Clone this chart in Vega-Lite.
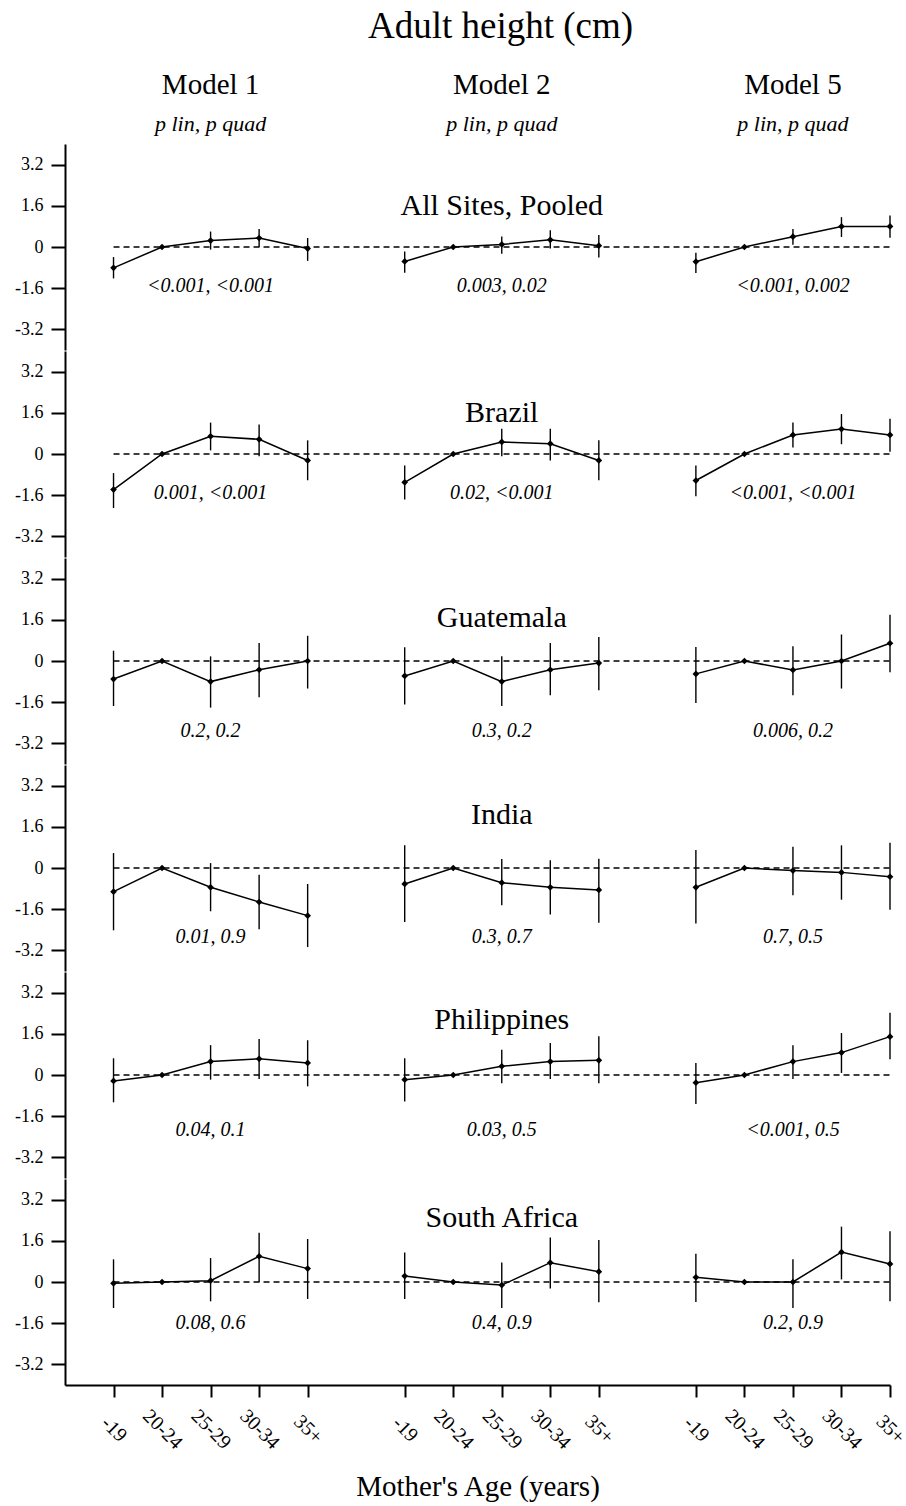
{
"$schema": "https://vega.github.io/schema/vega-lite/v6.json",
"padding": {"left": 14, "top": 8, "right": 0, "bottom": 8},
"background": "white",
"title": {"text": "Adult height (cm)", "font": "Liberation Serif", "fontSize": 37, "fontWeight": "normal", "color": "black", "anchor": "middle", "frame": "group", "dx": 23, "offset": 25},
"config": {
  "view": {"stroke": null},
  "axis": {"grid": false, "domainColor": "black", "tickColor": "black", "labelColor": "black", "titleColor": "black", "labelFont": "Liberation Serif", "titleFont": "Liberation Serif", "domainWidth": 2, "tickWidth": 2, "titleFontWeight": "normal", "labelOverlap": false, "labelFlush": false}
},
"datasets": {
  "sites": [{"site": "All Sites, Pooled"}, {"site": "Brazil"}, {"site": "Guatemala"}, {"site": "India"}, {"site": "Philippines"}, {"site": "South Africa"}],
  "models": [{"model": "Model 1", "sub": "p lin, p quad"}, {"model": "Model 2", "sub": "p lin, p quad"}, {"model": "Model 5", "sub": "p lin, p quad"}],
  "pv": [
    {"site": "All Sites, Pooled", "model": "Model 1", "p": "<0.001, <0.001"},
    {"site": "All Sites, Pooled", "model": "Model 2", "p": "0.003, 0.02"},
    {"site": "All Sites, Pooled", "model": "Model 5", "p": "<0.001, 0.002"},
    {"site": "Brazil", "model": "Model 1", "p": "0.001, <0.001"},
    {"site": "Brazil", "model": "Model 2", "p": "0.02, <0.001"},
    {"site": "Brazil", "model": "Model 5", "p": "<0.001, <0.001"},
    {"site": "Guatemala", "model": "Model 1", "p": "0.2, 0.2"},
    {"site": "Guatemala", "model": "Model 2", "p": "0.3, 0.2"},
    {"site": "Guatemala", "model": "Model 5", "p": "0.006, 0.2"},
    {"site": "India", "model": "Model 1", "p": "0.01, 0.9"},
    {"site": "India", "model": "Model 2", "p": "0.3, 0.7"},
    {"site": "India", "model": "Model 5", "p": "0.7, 0.5"},
    {"site": "Philippines", "model": "Model 1", "p": "0.04, 0.1"},
    {"site": "Philippines", "model": "Model 2", "p": "0.03, 0.5"},
    {"site": "Philippines", "model": "Model 5", "p": "<0.001, 0.5"},
    {"site": "South Africa", "model": "Model 1", "p": "0.08, 0.6"},
    {"site": "South Africa", "model": "Model 2", "p": "0.4, 0.9"},
    {"site": "South Africa", "model": "Model 5", "p": "0.2, 0.9"}
  ],
  "est": [
    {"site": "All Sites, Pooled", "model": "Model 1", "age": "-19", "est": -0.81, "lo": -1.22, "hi": -0.39},
    {"site": "All Sites, Pooled", "model": "Model 1", "age": "20-24", "est": 0, "lo": null, "hi": null},
    {"site": "All Sites, Pooled", "model": "Model 1", "age": "25-29", "est": 0.25, "lo": -0.1, "hi": 0.6},
    {"site": "All Sites, Pooled", "model": "Model 1", "age": "30-34", "est": 0.35, "lo": 0.0, "hi": 0.7},
    {"site": "All Sites, Pooled", "model": "Model 1", "age": "35+", "est": -0.06, "lo": -0.54, "hi": 0.35},
    {"site": "All Sites, Pooled", "model": "Model 2", "age": "-19", "est": -0.56, "lo": -1.0, "hi": -0.17},
    {"site": "All Sites, Pooled", "model": "Model 2", "age": "20-24", "est": 0, "lo": null, "hi": null},
    {"site": "All Sites, Pooled", "model": "Model 2", "age": "25-29", "est": 0.1, "lo": -0.26, "hi": 0.41},
    {"site": "All Sites, Pooled", "model": "Model 2", "age": "30-34", "est": 0.28, "lo": -0.06, "hi": 0.65},
    {"site": "All Sites, Pooled", "model": "Model 2", "age": "35+", "est": 0.05, "lo": -0.41, "hi": 0.47},
    {"site": "All Sites, Pooled", "model": "Model 5", "age": "-19", "est": -0.57, "lo": -1.01, "hi": -0.22},
    {"site": "All Sites, Pooled", "model": "Model 5", "age": "20-24", "est": 0, "lo": null, "hi": null},
    {"site": "All Sites, Pooled", "model": "Model 5", "age": "25-29", "est": 0.4, "lo": 0.09, "hi": 0.7},
    {"site": "All Sites, Pooled", "model": "Model 5", "age": "30-34", "est": 0.8, "lo": 0.39, "hi": 1.16},
    {"site": "All Sites, Pooled", "model": "Model 5", "age": "35+", "est": 0.8, "lo": 0.36, "hi": 1.22},
    {"site": "Brazil", "model": "Model 1", "age": "-19", "est": -1.38, "lo": -2.1, "hi": -0.74},
    {"site": "Brazil", "model": "Model 1", "age": "20-24", "est": 0, "lo": null, "hi": null},
    {"site": "Brazil", "model": "Model 1", "age": "25-29", "est": 0.69, "lo": 0.14, "hi": 1.22},
    {"site": "Brazil", "model": "Model 1", "age": "30-34", "est": 0.57, "lo": -0.09, "hi": 1.15},
    {"site": "Brazil", "model": "Model 1", "age": "35+", "est": -0.25, "lo": -1.02, "hi": 0.53},
    {"site": "Brazil", "model": "Model 2", "age": "-19", "est": -1.1, "lo": -1.77, "hi": -0.45},
    {"site": "Brazil", "model": "Model 2", "age": "20-24", "est": 0, "lo": null, "hi": null},
    {"site": "Brazil", "model": "Model 2", "age": "25-29", "est": 0.47, "lo": -0.09, "hi": 0.98},
    {"site": "Brazil", "model": "Model 2", "age": "30-34", "est": 0.4, "lo": -0.25, "hi": 0.98},
    {"site": "Brazil", "model": "Model 2", "age": "35+", "est": -0.25, "lo": -1.02, "hi": 0.53},
    {"site": "Brazil", "model": "Model 5", "age": "-19", "est": -1.03, "lo": -1.64, "hi": -0.45},
    {"site": "Brazil", "model": "Model 5", "age": "20-24", "est": 0, "lo": null, "hi": null},
    {"site": "Brazil", "model": "Model 5", "age": "25-29", "est": 0.74, "lo": 0.25, "hi": 1.22},
    {"site": "Brazil", "model": "Model 5", "age": "30-34", "est": 0.97, "lo": 0.38, "hi": 1.55},
    {"site": "Brazil", "model": "Model 5", "age": "35+", "est": 0.74, "lo": 0.09, "hi": 1.37},
    {"site": "Guatemala", "model": "Model 1", "age": "-19", "est": -0.7, "lo": -1.75, "hi": 0.4},
    {"site": "Guatemala", "model": "Model 1", "age": "20-24", "est": 0, "lo": null, "hi": null},
    {"site": "Guatemala", "model": "Model 1", "age": "25-29", "est": -0.8, "lo": -1.81, "hi": 0.18},
    {"site": "Guatemala", "model": "Model 1", "age": "30-34", "est": -0.34, "lo": -1.41, "hi": 0.7},
    {"site": "Guatemala", "model": "Model 1", "age": "35+", "est": 0.0, "lo": -1.07, "hi": 0.98},
    {"site": "Guatemala", "model": "Model 2", "age": "-19", "est": -0.58, "lo": -1.69, "hi": 0.53},
    {"site": "Guatemala", "model": "Model 2", "age": "20-24", "est": 0, "lo": null, "hi": null},
    {"site": "Guatemala", "model": "Model 2", "age": "25-29", "est": -0.8, "lo": -1.75, "hi": 0.18},
    {"site": "Guatemala", "model": "Model 2", "age": "30-34", "est": -0.34, "lo": -1.33, "hi": 0.7},
    {"site": "Guatemala", "model": "Model 2", "age": "35+", "est": -0.08, "lo": -1.14, "hi": 0.93},
    {"site": "Guatemala", "model": "Model 5", "age": "-19", "est": -0.5, "lo": -1.63, "hi": 0.54},
    {"site": "Guatemala", "model": "Model 5", "age": "20-24", "est": 0, "lo": null, "hi": null},
    {"site": "Guatemala", "model": "Model 5", "age": "25-29", "est": -0.35, "lo": -1.33, "hi": 0.57},
    {"site": "Guatemala", "model": "Model 5", "age": "30-34", "est": 0.0, "lo": -1.07, "hi": 1.03},
    {"site": "Guatemala", "model": "Model 5", "age": "35+", "est": 0.69, "lo": -0.44, "hi": 1.8},
    {"site": "India", "model": "Model 1", "age": "-19", "est": -0.92, "lo": -2.42, "hi": 0.58},
    {"site": "India", "model": "Model 1", "age": "20-24", "est": 0, "lo": null, "hi": null},
    {"site": "India", "model": "Model 1", "age": "25-29", "est": -0.75, "lo": -1.68, "hi": 0.19},
    {"site": "India", "model": "Model 1", "age": "30-34", "est": -1.32, "lo": -2.38, "hi": -0.26},
    {"site": "India", "model": "Model 1", "age": "35+", "est": -1.85, "lo": -3.07, "hi": -0.62},
    {"site": "India", "model": "Model 2", "age": "-19", "est": -0.62, "lo": -2.1, "hi": 0.88},
    {"site": "India", "model": "Model 2", "age": "20-24", "est": 0, "lo": null, "hi": null},
    {"site": "India", "model": "Model 2", "age": "25-29", "est": -0.57, "lo": -1.45, "hi": 0.35},
    {"site": "India", "model": "Model 2", "age": "30-34", "est": -0.75, "lo": -1.81, "hi": 0.3},
    {"site": "India", "model": "Model 2", "age": "35+", "est": -0.85, "lo": -2.13, "hi": 0.36},
    {"site": "India", "model": "Model 5", "age": "-19", "est": -0.75, "lo": -2.16, "hi": 0.7},
    {"site": "India", "model": "Model 5", "age": "20-24", "est": 0, "lo": null, "hi": null},
    {"site": "India", "model": "Model 5", "age": "25-29", "est": -0.1, "lo": -1.06, "hi": 0.83},
    {"site": "India", "model": "Model 5", "age": "30-34", "est": -0.17, "lo": -1.23, "hi": 0.88},
    {"site": "India", "model": "Model 5", "age": "35+", "est": -0.34, "lo": -1.62, "hi": 0.98},
    {"site": "Philippines", "model": "Model 1", "age": "-19", "est": -0.23, "lo": -1.06, "hi": 0.65},
    {"site": "Philippines", "model": "Model 1", "age": "20-24", "est": 0, "lo": null, "hi": null},
    {"site": "Philippines", "model": "Model 1", "age": "25-29", "est": 0.52, "lo": -0.18, "hi": 1.16},
    {"site": "Philippines", "model": "Model 1", "age": "30-34", "est": 0.63, "lo": -0.16, "hi": 1.4},
    {"site": "Philippines", "model": "Model 1", "age": "35+", "est": 0.47, "lo": -0.44, "hi": 1.35},
    {"site": "Philippines", "model": "Model 2", "age": "-19", "est": -0.18, "lo": -1.03, "hi": 0.65},
    {"site": "Philippines", "model": "Model 2", "age": "20-24", "est": 0, "lo": null, "hi": null},
    {"site": "Philippines", "model": "Model 2", "age": "25-29", "est": 0.34, "lo": -0.32, "hi": 0.98},
    {"site": "Philippines", "model": "Model 2", "age": "30-34", "est": 0.52, "lo": -0.16, "hi": 1.24},
    {"site": "Philippines", "model": "Model 2", "age": "35+", "est": 0.57, "lo": -0.32, "hi": 1.5},
    {"site": "Philippines", "model": "Model 5", "age": "-19", "est": -0.3, "lo": -1.13, "hi": 0.47},
    {"site": "Philippines", "model": "Model 5", "age": "20-24", "est": 0, "lo": null, "hi": null},
    {"site": "Philippines", "model": "Model 5", "age": "25-29", "est": 0.52, "lo": -0.16, "hi": 1.16},
    {"site": "Philippines", "model": "Model 5", "age": "30-34", "est": 0.87, "lo": 0.08, "hi": 1.63},
    {"site": "Philippines", "model": "Model 5", "age": "35+", "est": 1.49, "lo": 0.61, "hi": 2.42},
    {"site": "South Africa", "model": "Model 1", "age": "-19", "est": -0.05, "lo": -1.01, "hi": 0.88},
    {"site": "South Africa", "model": "Model 1", "age": "20-24", "est": 0, "lo": null, "hi": null},
    {"site": "South Africa", "model": "Model 1", "age": "25-29", "est": 0.05, "lo": -0.75, "hi": 0.93},
    {"site": "South Africa", "model": "Model 1", "age": "30-34", "est": 1.0, "lo": 0.0, "hi": 1.91},
    {"site": "South Africa", "model": "Model 1", "age": "35+", "est": 0.52, "lo": -0.66, "hi": 1.67},
    {"site": "South Africa", "model": "Model 2", "age": "-19", "est": 0.23, "lo": -0.66, "hi": 1.15},
    {"site": "South Africa", "model": "Model 2", "age": "20-24", "est": 0, "lo": null, "hi": null},
    {"site": "South Africa", "model": "Model 2", "age": "25-29", "est": -0.12, "lo": -1.01, "hi": 0.76},
    {"site": "South Africa", "model": "Model 2", "age": "30-34", "est": 0.75, "lo": -0.25, "hi": 1.73},
    {"site": "South Africa", "model": "Model 2", "age": "35+", "est": 0.4, "lo": -0.79, "hi": 1.63},
    {"site": "South Africa", "model": "Model 5", "age": "-19", "est": 0.18, "lo": -0.78, "hi": 1.1},
    {"site": "South Africa", "model": "Model 5", "age": "20-24", "est": 0, "lo": null, "hi": null},
    {"site": "South Africa", "model": "Model 5", "age": "25-29", "est": 0.0, "lo": -1.01, "hi": 0.88},
    {"site": "South Africa", "model": "Model 5", "age": "30-34", "est": 1.16, "lo": 0.1, "hi": 2.15},
    {"site": "South Africa", "model": "Model 5", "age": "35+", "est": 0.7, "lo": -0.75, "hi": 1.97}
  ]
},
"spacing": 1,
"vconcat": [
{
"width": 825, "height": 206,
"layer": [
{"data": {"values": [{}]}, "mark": {"type": "rule", "strokeDash": [6, 4], "strokeWidth": 1.5, "color": "black"}, "encoding": {"x": {"datum": 1, "type": "quantitative", "scale": {"domain": [0, 17], "nice": false, "zero": false}, "axis": null}, "x2": {"datum": 17}, "y": {"datum": 0, "type": "quantitative", "scale": {"domain": [-4, 4], "nice": false, "zero": false}, "axis": {"values": [-3.2, -1.6, 0, 1.6, 3.2], "labelExpr": "'' + datum.value", "title": null, "tickSize": 14, "labelFontSize": 18, "labelPadding": 8}}}},
{"data": {"name": "est"}, "transform": [{"filter": "datum.site == 'All Sites, Pooled'"}, {"calculate": "indexof(['-19','20-24','25-29','30-34','35+'], datum.age) + 1 + 6 * indexof(['Model 1','Model 2','Model 5'], datum.model)", "as": "xpos"}], "mark": {"type": "rule", "strokeWidth": 1.4, "color": "black"}, "encoding": {"x": {"field": "xpos", "type": "quantitative", "scale": {"domain": [0, 17], "nice": false, "zero": false}, "axis": null}, "y": {"field": "lo", "type": "quantitative", "scale": {"domain": [-4, 4], "nice": false, "zero": false}, "axis": {"values": [-3.2, -1.6, 0, 1.6, 3.2], "labelExpr": "'' + datum.value", "title": null, "tickSize": 14, "labelFontSize": 18, "labelPadding": 8}}, "y2": {"field": "hi"}}},
{"data": {"name": "est"}, "transform": [{"filter": "datum.site == 'All Sites, Pooled'"}, {"calculate": "indexof(['-19','20-24','25-29','30-34','35+'], datum.age) + 1 + 6 * indexof(['Model 1','Model 2','Model 5'], datum.model)", "as": "xpos"}], "mark": {"type": "line", "strokeWidth": 1.5, "color": "black"}, "encoding": {"x": {"field": "xpos", "type": "quantitative", "scale": {"domain": [0, 17], "nice": false, "zero": false}, "axis": null}, "y": {"field": "est", "type": "quantitative", "scale": {"domain": [-4, 4], "nice": false, "zero": false}, "axis": {"values": [-3.2, -1.6, 0, 1.6, 3.2], "labelExpr": "'' + datum.value", "title": null, "tickSize": 14, "labelFontSize": 18, "labelPadding": 8}}, "detail": {"field": "model"}}},
{"data": {"name": "est"}, "transform": [{"filter": "datum.site == 'All Sites, Pooled'"}, {"calculate": "indexof(['-19','20-24','25-29','30-34','35+'], datum.age) + 1 + 6 * indexof(['Model 1','Model 2','Model 5'], datum.model)", "as": "xpos"}], "mark": {"type": "point", "shape": "diamond", "filled": true, "size": 45, "color": "black", "opacity": 1}, "encoding": {"x": {"field": "xpos", "type": "quantitative", "scale": {"domain": [0, 17], "nice": false, "zero": false}, "axis": null}, "y": {"field": "est", "type": "quantitative", "scale": {"domain": [-4, 4], "nice": false, "zero": false}, "axis": {"values": [-3.2, -1.6, 0, 1.6, 3.2], "labelExpr": "'' + datum.value", "title": null, "tickSize": 14, "labelFontSize": 18, "labelPadding": 8}}}},
{"data": {"name": "pv"}, "transform": [{"filter": "datum.site == 'All Sites, Pooled'"}, {"calculate": "3 + 6 * indexof(['Model 1','Model 2','Model 5'], datum.model)", "as": "xpos"}], "mark": {"type": "text", "font": "Liberation Serif", "fontStyle": "italic", "fontSize": 20, "color": "black"}, "encoding": {"x": {"field": "xpos", "type": "quantitative", "scale": {"domain": [0, 17], "nice": false, "zero": false}, "axis": null}, "y": {"datum": -1.53, "type": "quantitative", "scale": {"domain": [-4, 4], "nice": false, "zero": false}, "axis": {"values": [-3.2, -1.6, 0, 1.6, 3.2], "labelExpr": "'' + datum.value", "title": null, "tickSize": 14, "labelFontSize": 18, "labelPadding": 8}}, "text": {"field": "p"}}},
{"data": {"name": "sites"}, "transform": [{"filter": "datum.site == 'All Sites, Pooled'"}], "mark": {"type": "text", "font": "Liberation Serif", "fontSize": 30, "color": "black"}, "encoding": {"x": {"datum": 9, "type": "quantitative", "scale": {"domain": [0, 17], "nice": false, "zero": false}, "axis": null}, "y": {"datum": 1.6, "type": "quantitative", "scale": {"domain": [-4, 4], "nice": false, "zero": false}, "axis": {"values": [-3.2, -1.6, 0, 1.6, 3.2], "labelExpr": "'' + datum.value", "title": null, "tickSize": 14, "labelFontSize": 18, "labelPadding": 8}}, "text": {"field": "site"}}},
{"data": {"name": "models"}, "transform": [{"calculate": "3 + 6 * indexof(['Model 1','Model 2','Model 5'], datum.model)", "as": "xpos"}], "mark": {"type": "text", "font": "Liberation Serif", "fontSize": 29, "color": "black"}, "encoding": {"x": {"field": "xpos", "type": "quantitative", "scale": {"domain": [0, 17], "nice": false, "zero": false}, "axis": null}, "y": {"datum": 6.29, "type": "quantitative", "scale": {"domain": [-4, 4], "nice": false, "zero": false}, "axis": {"values": [-3.2, -1.6, 0, 1.6, 3.2], "labelExpr": "'' + datum.value", "title": null, "tickSize": 14, "labelFontSize": 18, "labelPadding": 8}}, "text": {"field": "model"}}},
{"data": {"name": "models"}, "transform": [{"calculate": "3 + 6 * indexof(['Model 1','Model 2','Model 5'], datum.model)", "as": "xpos"}], "mark": {"type": "text", "font": "Liberation Serif", "fontStyle": "italic", "fontSize": 22, "color": "black"}, "encoding": {"x": {"field": "xpos", "type": "quantitative", "scale": {"domain": [0, 17], "nice": false, "zero": false}, "axis": null}, "y": {"datum": 4.78, "type": "quantitative", "scale": {"domain": [-4, 4], "nice": false, "zero": false}, "axis": {"values": [-3.2, -1.6, 0, 1.6, 3.2], "labelExpr": "'' + datum.value", "title": null, "tickSize": 14, "labelFontSize": 18, "labelPadding": 8}}, "text": {"field": "sub"}}}
]
},
{
"width": 825, "height": 206,
"layer": [
{"data": {"values": [{}]}, "mark": {"type": "rule", "strokeDash": [6, 4], "strokeWidth": 1.5, "color": "black"}, "encoding": {"x": {"datum": 1, "type": "quantitative", "scale": {"domain": [0, 17], "nice": false, "zero": false}, "axis": null}, "x2": {"datum": 17}, "y": {"datum": 0, "type": "quantitative", "scale": {"domain": [-4, 4], "nice": false, "zero": false}, "axis": {"values": [-3.2, -1.6, 0, 1.6, 3.2], "labelExpr": "'' + datum.value", "title": null, "tickSize": 14, "labelFontSize": 18, "labelPadding": 8}}}},
{"data": {"name": "est"}, "transform": [{"filter": "datum.site == 'Brazil'"}, {"calculate": "indexof(['-19','20-24','25-29','30-34','35+'], datum.age) + 1 + 6 * indexof(['Model 1','Model 2','Model 5'], datum.model)", "as": "xpos"}], "mark": {"type": "rule", "strokeWidth": 1.4, "color": "black"}, "encoding": {"x": {"field": "xpos", "type": "quantitative", "scale": {"domain": [0, 17], "nice": false, "zero": false}, "axis": null}, "y": {"field": "lo", "type": "quantitative", "scale": {"domain": [-4, 4], "nice": false, "zero": false}, "axis": {"values": [-3.2, -1.6, 0, 1.6, 3.2], "labelExpr": "'' + datum.value", "title": null, "tickSize": 14, "labelFontSize": 18, "labelPadding": 8}}, "y2": {"field": "hi"}}},
{"data": {"name": "est"}, "transform": [{"filter": "datum.site == 'Brazil'"}, {"calculate": "indexof(['-19','20-24','25-29','30-34','35+'], datum.age) + 1 + 6 * indexof(['Model 1','Model 2','Model 5'], datum.model)", "as": "xpos"}], "mark": {"type": "line", "strokeWidth": 1.5, "color": "black"}, "encoding": {"x": {"field": "xpos", "type": "quantitative", "scale": {"domain": [0, 17], "nice": false, "zero": false}, "axis": null}, "y": {"field": "est", "type": "quantitative", "scale": {"domain": [-4, 4], "nice": false, "zero": false}, "axis": {"values": [-3.2, -1.6, 0, 1.6, 3.2], "labelExpr": "'' + datum.value", "title": null, "tickSize": 14, "labelFontSize": 18, "labelPadding": 8}}, "detail": {"field": "model"}}},
{"data": {"name": "est"}, "transform": [{"filter": "datum.site == 'Brazil'"}, {"calculate": "indexof(['-19','20-24','25-29','30-34','35+'], datum.age) + 1 + 6 * indexof(['Model 1','Model 2','Model 5'], datum.model)", "as": "xpos"}], "mark": {"type": "point", "shape": "diamond", "filled": true, "size": 45, "color": "black", "opacity": 1}, "encoding": {"x": {"field": "xpos", "type": "quantitative", "scale": {"domain": [0, 17], "nice": false, "zero": false}, "axis": null}, "y": {"field": "est", "type": "quantitative", "scale": {"domain": [-4, 4], "nice": false, "zero": false}, "axis": {"values": [-3.2, -1.6, 0, 1.6, 3.2], "labelExpr": "'' + datum.value", "title": null, "tickSize": 14, "labelFontSize": 18, "labelPadding": 8}}}},
{"data": {"name": "pv"}, "transform": [{"filter": "datum.site == 'Brazil'"}, {"calculate": "3 + 6 * indexof(['Model 1','Model 2','Model 5'], datum.model)", "as": "xpos"}], "mark": {"type": "text", "font": "Liberation Serif", "fontStyle": "italic", "fontSize": 20, "color": "black"}, "encoding": {"x": {"field": "xpos", "type": "quantitative", "scale": {"domain": [0, 17], "nice": false, "zero": false}, "axis": null}, "y": {"datum": -1.53, "type": "quantitative", "scale": {"domain": [-4, 4], "nice": false, "zero": false}, "axis": {"values": [-3.2, -1.6, 0, 1.6, 3.2], "labelExpr": "'' + datum.value", "title": null, "tickSize": 14, "labelFontSize": 18, "labelPadding": 8}}, "text": {"field": "p"}}},
{"data": {"name": "sites"}, "transform": [{"filter": "datum.site == 'Brazil'"}], "mark": {"type": "text", "font": "Liberation Serif", "fontSize": 30, "color": "black"}, "encoding": {"x": {"datum": 9, "type": "quantitative", "scale": {"domain": [0, 17], "nice": false, "zero": false}, "axis": null}, "y": {"datum": 1.6, "type": "quantitative", "scale": {"domain": [-4, 4], "nice": false, "zero": false}, "axis": {"values": [-3.2, -1.6, 0, 1.6, 3.2], "labelExpr": "'' + datum.value", "title": null, "tickSize": 14, "labelFontSize": 18, "labelPadding": 8}}, "text": {"field": "site"}}}
]
},
{
"width": 825, "height": 206,
"layer": [
{"data": {"values": [{}]}, "mark": {"type": "rule", "strokeDash": [6, 4], "strokeWidth": 1.5, "color": "black"}, "encoding": {"x": {"datum": 1, "type": "quantitative", "scale": {"domain": [0, 17], "nice": false, "zero": false}, "axis": null}, "x2": {"datum": 17}, "y": {"datum": 0, "type": "quantitative", "scale": {"domain": [-4, 4], "nice": false, "zero": false}, "axis": {"values": [-3.2, -1.6, 0, 1.6, 3.2], "labelExpr": "'' + datum.value", "title": null, "tickSize": 14, "labelFontSize": 18, "labelPadding": 8}}}},
{"data": {"name": "est"}, "transform": [{"filter": "datum.site == 'Guatemala'"}, {"calculate": "indexof(['-19','20-24','25-29','30-34','35+'], datum.age) + 1 + 6 * indexof(['Model 1','Model 2','Model 5'], datum.model)", "as": "xpos"}], "mark": {"type": "rule", "strokeWidth": 1.4, "color": "black"}, "encoding": {"x": {"field": "xpos", "type": "quantitative", "scale": {"domain": [0, 17], "nice": false, "zero": false}, "axis": null}, "y": {"field": "lo", "type": "quantitative", "scale": {"domain": [-4, 4], "nice": false, "zero": false}, "axis": {"values": [-3.2, -1.6, 0, 1.6, 3.2], "labelExpr": "'' + datum.value", "title": null, "tickSize": 14, "labelFontSize": 18, "labelPadding": 8}}, "y2": {"field": "hi"}}},
{"data": {"name": "est"}, "transform": [{"filter": "datum.site == 'Guatemala'"}, {"calculate": "indexof(['-19','20-24','25-29','30-34','35+'], datum.age) + 1 + 6 * indexof(['Model 1','Model 2','Model 5'], datum.model)", "as": "xpos"}], "mark": {"type": "line", "strokeWidth": 1.5, "color": "black"}, "encoding": {"x": {"field": "xpos", "type": "quantitative", "scale": {"domain": [0, 17], "nice": false, "zero": false}, "axis": null}, "y": {"field": "est", "type": "quantitative", "scale": {"domain": [-4, 4], "nice": false, "zero": false}, "axis": {"values": [-3.2, -1.6, 0, 1.6, 3.2], "labelExpr": "'' + datum.value", "title": null, "tickSize": 14, "labelFontSize": 18, "labelPadding": 8}}, "detail": {"field": "model"}}},
{"data": {"name": "est"}, "transform": [{"filter": "datum.site == 'Guatemala'"}, {"calculate": "indexof(['-19','20-24','25-29','30-34','35+'], datum.age) + 1 + 6 * indexof(['Model 1','Model 2','Model 5'], datum.model)", "as": "xpos"}], "mark": {"type": "point", "shape": "diamond", "filled": true, "size": 45, "color": "black", "opacity": 1}, "encoding": {"x": {"field": "xpos", "type": "quantitative", "scale": {"domain": [0, 17], "nice": false, "zero": false}, "axis": null}, "y": {"field": "est", "type": "quantitative", "scale": {"domain": [-4, 4], "nice": false, "zero": false}, "axis": {"values": [-3.2, -1.6, 0, 1.6, 3.2], "labelExpr": "'' + datum.value", "title": null, "tickSize": 14, "labelFontSize": 18, "labelPadding": 8}}}},
{"data": {"name": "pv"}, "transform": [{"filter": "datum.site == 'Guatemala'"}, {"calculate": "3 + 6 * indexof(['Model 1','Model 2','Model 5'], datum.model)", "as": "xpos"}], "mark": {"type": "text", "font": "Liberation Serif", "fontStyle": "italic", "fontSize": 20, "color": "black"}, "encoding": {"x": {"field": "xpos", "type": "quantitative", "scale": {"domain": [0, 17], "nice": false, "zero": false}, "axis": null}, "y": {"datum": -2.7, "type": "quantitative", "scale": {"domain": [-4, 4], "nice": false, "zero": false}, "axis": {"values": [-3.2, -1.6, 0, 1.6, 3.2], "labelExpr": "'' + datum.value", "title": null, "tickSize": 14, "labelFontSize": 18, "labelPadding": 8}}, "text": {"field": "p"}}},
{"data": {"name": "sites"}, "transform": [{"filter": "datum.site == 'Guatemala'"}], "mark": {"type": "text", "font": "Liberation Serif", "fontSize": 30, "color": "black"}, "encoding": {"x": {"datum": 9, "type": "quantitative", "scale": {"domain": [0, 17], "nice": false, "zero": false}, "axis": null}, "y": {"datum": 1.68, "type": "quantitative", "scale": {"domain": [-4, 4], "nice": false, "zero": false}, "axis": {"values": [-3.2, -1.6, 0, 1.6, 3.2], "labelExpr": "'' + datum.value", "title": null, "tickSize": 14, "labelFontSize": 18, "labelPadding": 8}}, "text": {"field": "site"}}}
]
},
{
"width": 825, "height": 206,
"layer": [
{"data": {"values": [{}]}, "mark": {"type": "rule", "strokeDash": [6, 4], "strokeWidth": 1.5, "color": "black"}, "encoding": {"x": {"datum": 1, "type": "quantitative", "scale": {"domain": [0, 17], "nice": false, "zero": false}, "axis": null}, "x2": {"datum": 17}, "y": {"datum": 0, "type": "quantitative", "scale": {"domain": [-4, 4], "nice": false, "zero": false}, "axis": {"values": [-3.2, -1.6, 0, 1.6, 3.2], "labelExpr": "'' + datum.value", "title": null, "tickSize": 14, "labelFontSize": 18, "labelPadding": 8}}}},
{"data": {"name": "est"}, "transform": [{"filter": "datum.site == 'India'"}, {"calculate": "indexof(['-19','20-24','25-29','30-34','35+'], datum.age) + 1 + 6 * indexof(['Model 1','Model 2','Model 5'], datum.model)", "as": "xpos"}], "mark": {"type": "rule", "strokeWidth": 1.4, "color": "black"}, "encoding": {"x": {"field": "xpos", "type": "quantitative", "scale": {"domain": [0, 17], "nice": false, "zero": false}, "axis": null}, "y": {"field": "lo", "type": "quantitative", "scale": {"domain": [-4, 4], "nice": false, "zero": false}, "axis": {"values": [-3.2, -1.6, 0, 1.6, 3.2], "labelExpr": "'' + datum.value", "title": null, "tickSize": 14, "labelFontSize": 18, "labelPadding": 8}}, "y2": {"field": "hi"}}},
{"data": {"name": "est"}, "transform": [{"filter": "datum.site == 'India'"}, {"calculate": "indexof(['-19','20-24','25-29','30-34','35+'], datum.age) + 1 + 6 * indexof(['Model 1','Model 2','Model 5'], datum.model)", "as": "xpos"}], "mark": {"type": "line", "strokeWidth": 1.5, "color": "black"}, "encoding": {"x": {"field": "xpos", "type": "quantitative", "scale": {"domain": [0, 17], "nice": false, "zero": false}, "axis": null}, "y": {"field": "est", "type": "quantitative", "scale": {"domain": [-4, 4], "nice": false, "zero": false}, "axis": {"values": [-3.2, -1.6, 0, 1.6, 3.2], "labelExpr": "'' + datum.value", "title": null, "tickSize": 14, "labelFontSize": 18, "labelPadding": 8}}, "detail": {"field": "model"}}},
{"data": {"name": "est"}, "transform": [{"filter": "datum.site == 'India'"}, {"calculate": "indexof(['-19','20-24','25-29','30-34','35+'], datum.age) + 1 + 6 * indexof(['Model 1','Model 2','Model 5'], datum.model)", "as": "xpos"}], "mark": {"type": "point", "shape": "diamond", "filled": true, "size": 45, "color": "black", "opacity": 1}, "encoding": {"x": {"field": "xpos", "type": "quantitative", "scale": {"domain": [0, 17], "nice": false, "zero": false}, "axis": null}, "y": {"field": "est", "type": "quantitative", "scale": {"domain": [-4, 4], "nice": false, "zero": false}, "axis": {"values": [-3.2, -1.6, 0, 1.6, 3.2], "labelExpr": "'' + datum.value", "title": null, "tickSize": 14, "labelFontSize": 18, "labelPadding": 8}}}},
{"data": {"name": "pv"}, "transform": [{"filter": "datum.site == 'India'"}, {"calculate": "3 + 6 * indexof(['Model 1','Model 2','Model 5'], datum.model)", "as": "xpos"}], "mark": {"type": "text", "font": "Liberation Serif", "fontStyle": "italic", "fontSize": 20, "color": "black"}, "encoding": {"x": {"field": "xpos", "type": "quantitative", "scale": {"domain": [0, 17], "nice": false, "zero": false}, "axis": null}, "y": {"datum": -2.68, "type": "quantitative", "scale": {"domain": [-4, 4], "nice": false, "zero": false}, "axis": {"values": [-3.2, -1.6, 0, 1.6, 3.2], "labelExpr": "'' + datum.value", "title": null, "tickSize": 14, "labelFontSize": 18, "labelPadding": 8}}, "text": {"field": "p"}}},
{"data": {"name": "sites"}, "transform": [{"filter": "datum.site == 'India'"}], "mark": {"type": "text", "font": "Liberation Serif", "fontSize": 30, "color": "black"}, "encoding": {"x": {"datum": 9, "type": "quantitative", "scale": {"domain": [0, 17], "nice": false, "zero": false}, "axis": null}, "y": {"datum": 2.05, "type": "quantitative", "scale": {"domain": [-4, 4], "nice": false, "zero": false}, "axis": {"values": [-3.2, -1.6, 0, 1.6, 3.2], "labelExpr": "'' + datum.value", "title": null, "tickSize": 14, "labelFontSize": 18, "labelPadding": 8}}, "text": {"field": "site"}}}
]
},
{
"width": 825, "height": 206,
"layer": [
{"data": {"values": [{}]}, "mark": {"type": "rule", "strokeDash": [6, 4], "strokeWidth": 1.5, "color": "black"}, "encoding": {"x": {"datum": 1, "type": "quantitative", "scale": {"domain": [0, 17], "nice": false, "zero": false}, "axis": null}, "x2": {"datum": 17}, "y": {"datum": 0, "type": "quantitative", "scale": {"domain": [-4, 4], "nice": false, "zero": false}, "axis": {"values": [-3.2, -1.6, 0, 1.6, 3.2], "labelExpr": "'' + datum.value", "title": null, "tickSize": 14, "labelFontSize": 18, "labelPadding": 8}}}},
{"data": {"name": "est"}, "transform": [{"filter": "datum.site == 'Philippines'"}, {"calculate": "indexof(['-19','20-24','25-29','30-34','35+'], datum.age) + 1 + 6 * indexof(['Model 1','Model 2','Model 5'], datum.model)", "as": "xpos"}], "mark": {"type": "rule", "strokeWidth": 1.4, "color": "black"}, "encoding": {"x": {"field": "xpos", "type": "quantitative", "scale": {"domain": [0, 17], "nice": false, "zero": false}, "axis": null}, "y": {"field": "lo", "type": "quantitative", "scale": {"domain": [-4, 4], "nice": false, "zero": false}, "axis": {"values": [-3.2, -1.6, 0, 1.6, 3.2], "labelExpr": "'' + datum.value", "title": null, "tickSize": 14, "labelFontSize": 18, "labelPadding": 8}}, "y2": {"field": "hi"}}},
{"data": {"name": "est"}, "transform": [{"filter": "datum.site == 'Philippines'"}, {"calculate": "indexof(['-19','20-24','25-29','30-34','35+'], datum.age) + 1 + 6 * indexof(['Model 1','Model 2','Model 5'], datum.model)", "as": "xpos"}], "mark": {"type": "line", "strokeWidth": 1.5, "color": "black"}, "encoding": {"x": {"field": "xpos", "type": "quantitative", "scale": {"domain": [0, 17], "nice": false, "zero": false}, "axis": null}, "y": {"field": "est", "type": "quantitative", "scale": {"domain": [-4, 4], "nice": false, "zero": false}, "axis": {"values": [-3.2, -1.6, 0, 1.6, 3.2], "labelExpr": "'' + datum.value", "title": null, "tickSize": 14, "labelFontSize": 18, "labelPadding": 8}}, "detail": {"field": "model"}}},
{"data": {"name": "est"}, "transform": [{"filter": "datum.site == 'Philippines'"}, {"calculate": "indexof(['-19','20-24','25-29','30-34','35+'], datum.age) + 1 + 6 * indexof(['Model 1','Model 2','Model 5'], datum.model)", "as": "xpos"}], "mark": {"type": "point", "shape": "diamond", "filled": true, "size": 45, "color": "black", "opacity": 1}, "encoding": {"x": {"field": "xpos", "type": "quantitative", "scale": {"domain": [0, 17], "nice": false, "zero": false}, "axis": null}, "y": {"field": "est", "type": "quantitative", "scale": {"domain": [-4, 4], "nice": false, "zero": false}, "axis": {"values": [-3.2, -1.6, 0, 1.6, 3.2], "labelExpr": "'' + datum.value", "title": null, "tickSize": 14, "labelFontSize": 18, "labelPadding": 8}}}},
{"data": {"name": "pv"}, "transform": [{"filter": "datum.site == 'Philippines'"}, {"calculate": "3 + 6 * indexof(['Model 1','Model 2','Model 5'], datum.model)", "as": "xpos"}], "mark": {"type": "text", "font": "Liberation Serif", "fontStyle": "italic", "fontSize": 20, "color": "black"}, "encoding": {"x": {"field": "xpos", "type": "quantitative", "scale": {"domain": [0, 17], "nice": false, "zero": false}, "axis": null}, "y": {"datum": -2.13, "type": "quantitative", "scale": {"domain": [-4, 4], "nice": false, "zero": false}, "axis": {"values": [-3.2, -1.6, 0, 1.6, 3.2], "labelExpr": "'' + datum.value", "title": null, "tickSize": 14, "labelFontSize": 18, "labelPadding": 8}}, "text": {"field": "p"}}},
{"data": {"name": "sites"}, "transform": [{"filter": "datum.site == 'Philippines'"}], "mark": {"type": "text", "font": "Liberation Serif", "fontSize": 30, "color": "black"}, "encoding": {"x": {"datum": 9, "type": "quantitative", "scale": {"domain": [0, 17], "nice": false, "zero": false}, "axis": null}, "y": {"datum": 2.13, "type": "quantitative", "scale": {"domain": [-4, 4], "nice": false, "zero": false}, "axis": {"values": [-3.2, -1.6, 0, 1.6, 3.2], "labelExpr": "'' + datum.value", "title": null, "tickSize": 14, "labelFontSize": 18, "labelPadding": 8}}, "text": {"field": "site"}}}
]
},
{
"width": 825, "height": 206,
"layer": [
{"data": {"values": [{}]}, "mark": {"type": "rule", "strokeDash": [6, 4], "strokeWidth": 1.5, "color": "black"}, "encoding": {"x": {"datum": 1, "type": "quantitative", "scale": {"domain": [0, 17], "nice": false, "zero": false}, "axis": {"values": [1, 2, 3, 4, 5, 7, 8, 9, 10, 11, 13, 14, 15, 16, 17], "labelExpr": "['-19','20-24','25-29','30-34','35+'][(datum.value - 1) % 6]", "labelAngle": 45, "labelAlign": "center", "labelBaseline": "middle", "labelPadding": 32, "tickSize": 12, "labelFontSize": 20, "title": "Mother's Age (years)", "titleFontSize": 29, "titlePadding": 20}}, "x2": {"datum": 17}, "y": {"datum": 0, "type": "quantitative", "scale": {"domain": [-4, 4], "nice": false, "zero": false}, "axis": {"values": [-3.2, -1.6, 0, 1.6, 3.2], "labelExpr": "'' + datum.value", "title": null, "tickSize": 14, "labelFontSize": 18, "labelPadding": 8}}}},
{"data": {"name": "est"}, "transform": [{"filter": "datum.site == 'South Africa'"}, {"calculate": "indexof(['-19','20-24','25-29','30-34','35+'], datum.age) + 1 + 6 * indexof(['Model 1','Model 2','Model 5'], datum.model)", "as": "xpos"}], "mark": {"type": "rule", "strokeWidth": 1.4, "color": "black"}, "encoding": {"x": {"field": "xpos", "type": "quantitative", "scale": {"domain": [0, 17], "nice": false, "zero": false}, "axis": {"values": [1, 2, 3, 4, 5, 7, 8, 9, 10, 11, 13, 14, 15, 16, 17], "labelExpr": "['-19','20-24','25-29','30-34','35+'][(datum.value - 1) % 6]", "labelAngle": 45, "labelAlign": "center", "labelBaseline": "middle", "labelPadding": 32, "tickSize": 12, "labelFontSize": 20, "title": "Mother's Age (years)", "titleFontSize": 29, "titlePadding": 20}}, "y": {"field": "lo", "type": "quantitative", "scale": {"domain": [-4, 4], "nice": false, "zero": false}, "axis": {"values": [-3.2, -1.6, 0, 1.6, 3.2], "labelExpr": "'' + datum.value", "title": null, "tickSize": 14, "labelFontSize": 18, "labelPadding": 8}}, "y2": {"field": "hi"}}},
{"data": {"name": "est"}, "transform": [{"filter": "datum.site == 'South Africa'"}, {"calculate": "indexof(['-19','20-24','25-29','30-34','35+'], datum.age) + 1 + 6 * indexof(['Model 1','Model 2','Model 5'], datum.model)", "as": "xpos"}], "mark": {"type": "line", "strokeWidth": 1.5, "color": "black"}, "encoding": {"x": {"field": "xpos", "type": "quantitative", "scale": {"domain": [0, 17], "nice": false, "zero": false}, "axis": {"values": [1, 2, 3, 4, 5, 7, 8, 9, 10, 11, 13, 14, 15, 16, 17], "labelExpr": "['-19','20-24','25-29','30-34','35+'][(datum.value - 1) % 6]", "labelAngle": 45, "labelAlign": "center", "labelBaseline": "middle", "labelPadding": 32, "tickSize": 12, "labelFontSize": 20, "title": "Mother's Age (years)", "titleFontSize": 29, "titlePadding": 20}}, "y": {"field": "est", "type": "quantitative", "scale": {"domain": [-4, 4], "nice": false, "zero": false}, "axis": {"values": [-3.2, -1.6, 0, 1.6, 3.2], "labelExpr": "'' + datum.value", "title": null, "tickSize": 14, "labelFontSize": 18, "labelPadding": 8}}, "detail": {"field": "model"}}},
{"data": {"name": "est"}, "transform": [{"filter": "datum.site == 'South Africa'"}, {"calculate": "indexof(['-19','20-24','25-29','30-34','35+'], datum.age) + 1 + 6 * indexof(['Model 1','Model 2','Model 5'], datum.model)", "as": "xpos"}], "mark": {"type": "point", "shape": "diamond", "filled": true, "size": 45, "color": "black", "opacity": 1}, "encoding": {"x": {"field": "xpos", "type": "quantitative", "scale": {"domain": [0, 17], "nice": false, "zero": false}, "axis": {"values": [1, 2, 3, 4, 5, 7, 8, 9, 10, 11, 13, 14, 15, 16, 17], "labelExpr": "['-19','20-24','25-29','30-34','35+'][(datum.value - 1) % 6]", "labelAngle": 45, "labelAlign": "center", "labelBaseline": "middle", "labelPadding": 32, "tickSize": 12, "labelFontSize": 20, "title": "Mother's Age (years)", "titleFontSize": 29, "titlePadding": 20}}, "y": {"field": "est", "type": "quantitative", "scale": {"domain": [-4, 4], "nice": false, "zero": false}, "axis": {"values": [-3.2, -1.6, 0, 1.6, 3.2], "labelExpr": "'' + datum.value", "title": null, "tickSize": 14, "labelFontSize": 18, "labelPadding": 8}}}},
{"data": {"name": "pv"}, "transform": [{"filter": "datum.site == 'South Africa'"}, {"calculate": "3 + 6 * indexof(['Model 1','Model 2','Model 5'], datum.model)", "as": "xpos"}], "mark": {"type": "text", "font": "Liberation Serif", "fontStyle": "italic", "fontSize": 20, "color": "black"}, "encoding": {"x": {"field": "xpos", "type": "quantitative", "scale": {"domain": [0, 17], "nice": false, "zero": false}, "axis": {"values": [1, 2, 3, 4, 5, 7, 8, 9, 10, 11, 13, 14, 15, 16, 17], "labelExpr": "['-19','20-24','25-29','30-34','35+'][(datum.value - 1) % 6]", "labelAngle": 45, "labelAlign": "center", "labelBaseline": "middle", "labelPadding": 32, "tickSize": 12, "labelFontSize": 20, "title": "Mother's Age (years)", "titleFontSize": 29, "titlePadding": 20}}, "y": {"datum": -1.59, "type": "quantitative", "scale": {"domain": [-4, 4], "nice": false, "zero": false}, "axis": {"values": [-3.2, -1.6, 0, 1.6, 3.2], "labelExpr": "'' + datum.value", "title": null, "tickSize": 14, "labelFontSize": 18, "labelPadding": 8}}, "text": {"field": "p"}}},
{"data": {"name": "sites"}, "transform": [{"filter": "datum.site == 'South Africa'"}], "mark": {"type": "text", "font": "Liberation Serif", "fontSize": 30, "color": "black"}, "encoding": {"x": {"datum": 9, "type": "quantitative", "scale": {"domain": [0, 17], "nice": false, "zero": false}, "axis": {"values": [1, 2, 3, 4, 5, 7, 8, 9, 10, 11, 13, 14, 15, 16, 17], "labelExpr": "['-19','20-24','25-29','30-34','35+'][(datum.value - 1) % 6]", "labelAngle": 45, "labelAlign": "center", "labelBaseline": "middle", "labelPadding": 32, "tickSize": 12, "labelFontSize": 20, "title": "Mother's Age (years)", "titleFontSize": 29, "titlePadding": 20}}, "y": {"datum": 2.47, "type": "quantitative", "scale": {"domain": [-4, 4], "nice": false, "zero": false}, "axis": {"values": [-3.2, -1.6, 0, 1.6, 3.2], "labelExpr": "'' + datum.value", "title": null, "tickSize": 14, "labelFontSize": 18, "labelPadding": 8}}, "text": {"field": "site"}}}
]
}
]
}
